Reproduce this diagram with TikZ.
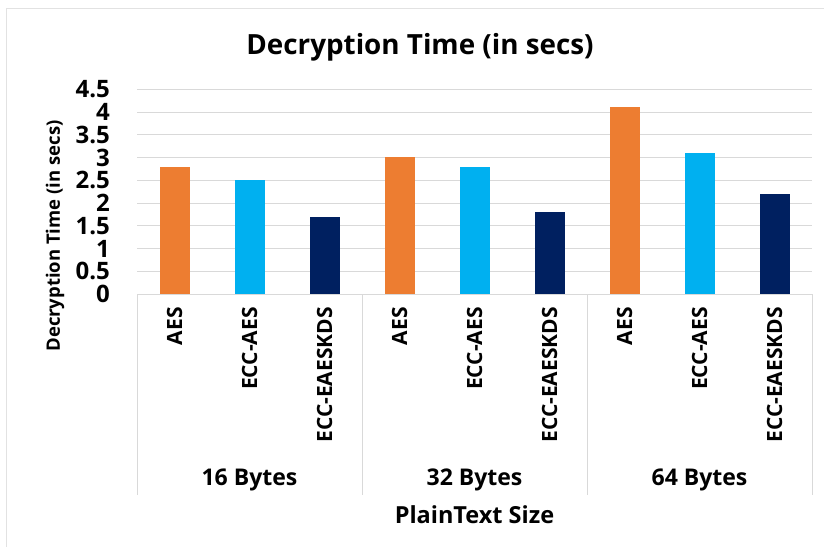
\documentclass[tikz,border=0pt]{standalone}
\usepackage{fontspec}
\setmainfont{Open Sans}

\begin{document}
\begin{tikzpicture}[x=1pt, y=1pt,
    catlabel/.style={font=\fontsize{21}{21}\selectfont\bfseries,
        rotate=90, anchor=east, inner sep=0pt},
    grouplabel/.style={font=\fontsize{23}{23}\selectfont\bfseries, inner sep=0pt},
    ticklabel/.style={font=\fontsize{24}{24}\selectfont\bfseries,
        anchor=east, inner sep=0pt}]

\definecolor{AesOrange}{RGB}{237,125,49}
\definecolor{EccBlue}{RGB}{0,176,240}
\definecolor{KdsNavy}{RGB}{0,32,96}
\definecolor{GridGray}{RGB}{217,217,217}
\definecolor{FrameGray}{RGB}{226,226,226}

\useasboundingbox (0,0) rectangle (824,547);

% ── Moldura do gráfico ──────────────────────────────────────
\draw[FrameGray, line width=1pt] (6,0) -- (6,538) -- (824,538);

% ── Título ──────────────────────────────────────────────────
\node[font=\fontsize{27.8}{27.8}\selectfont\bfseries] (title) at (420,500)
    {Decryption Time (in secs)};

% ── Área das barras (y em segundos) ─────────────────────────
\begin{scope}[shift={(137,253)}, y=45.5pt]
    % linhas de grade
    \foreach \v in {0.5,1,...,4.5}
        \draw[GridGray, line width=0.8pt] (0,\v) -- (675,\v);
    % valores do eixo
    \foreach \t [count=\k] in {0,0.5,1,1.5,2,2.5,3,3.5,4,4.5}
        \node[ticklabel] (tick\k) at (-27,{(\k-1)*0.5}) {\t};

    % 16 Bytes
    \fill[AesOrange] (22.5,0) rectangle (52.5,2.8);
    \fill[EccBlue]   (97.5,0) rectangle (127.5,2.5);
    \fill[KdsNavy]   (172.5,0) rectangle (202.5,1.7);
    % 32 Bytes
    \fill[AesOrange] (247.5,0) rectangle (277.5,3.0);
    \fill[EccBlue]   (322.5,0) rectangle (352.5,2.8);
    \fill[KdsNavy]   (397.5,0) rectangle (427.5,1.8);
    % 64 Bytes
    \fill[AesOrange] (472.5,0) rectangle (502.5,4.1);
    \fill[EccBlue]   (547.5,0) rectangle (577.5,3.1);
    \fill[KdsNavy]   (622.5,0) rectangle (652.5,2.2);
\end{scope}

% ── Eixo de categorias ──────────────────────────────────────
\draw[GridGray, line width=1pt] (137,253) -- (812,253);
\foreach \x in {137,362,587,812}
    \draw[GridGray, line width=1pt] (\x,253) -- (\x,52);

% nomes dos algoritmos
\node[catlabel] (aes16) at (174.5,240) {AES};
\node[catlabel] (ecc16) at (249.5,240) {ECC-AES};
\node[catlabel] (kds16) at (324.5,240) {ECC-EAESKDS};
\node[catlabel] (aes32) at (399.5,240) {AES};
\node[catlabel] (ecc32) at (474.5,240) {ECC-AES};
\node[catlabel] (kds32) at (549.5,240) {ECC-EAESKDS};
\node[catlabel] (aes64) at (624.5,240) {AES};
\node[catlabel] (ecc64) at (699.5,240) {ECC-AES};
\node[catlabel] (kds64) at (774.5,240) {ECC-EAESKDS};

% tamanhos
\node[grouplabel] (g16) at (249.5,67) {16 Bytes};
\node[grouplabel] (g32) at (474.5,67) {32 Bytes};
\node[grouplabel] (g64) at (699.5,67) {64 Bytes};

% ── Títulos dos eixos ───────────────────────────────────────
\node[font=\fontsize{23.5}{23.5}\selectfont\bfseries, inner sep=0pt]
    (xtitle) at (474.5,32) {PlainText Size};
\node[font=\fontsize{18.5}{18.5}\selectfont\bfseries, rotate=90, inner sep=0pt]
    (ytitle) at (55,311) {Decryption Time (in secs)};

\end{tikzpicture}
\end{document}
